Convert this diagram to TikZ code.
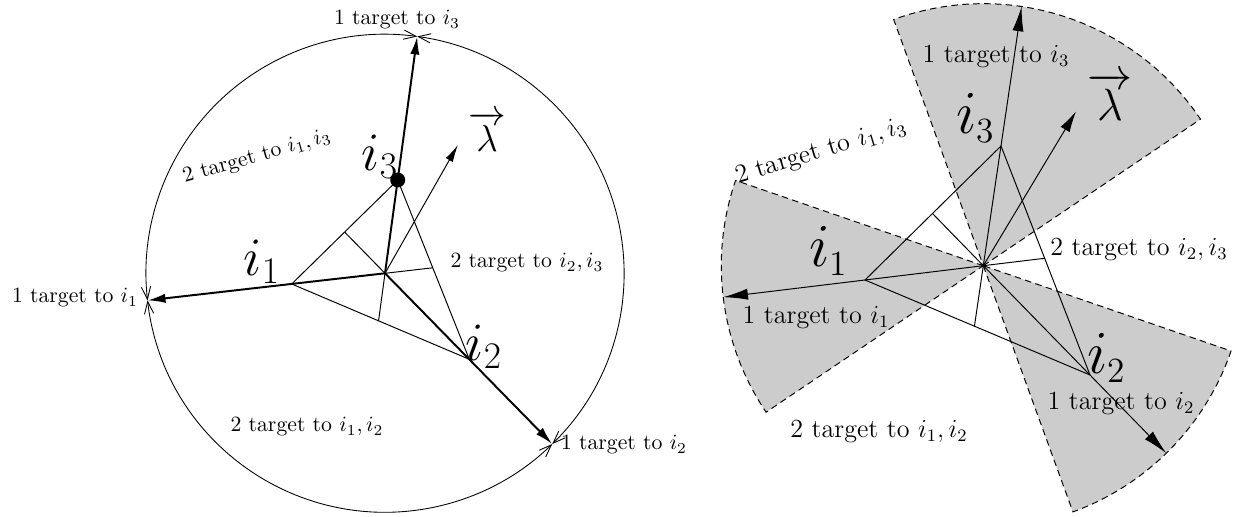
\documentclass[tikz,border=0pt]{standalone}
\usepackage{amsmath}
\usetikzlibrary{arrows.meta,calc}
\tikzset{
  thinline/.style ={line width=0.45pt},
  ray/.style      ={-{Latex[length=2.9mm,width=1.5mm]}, line width=0.9pt},
  rayR/.style     ={-{Latex[length=4mm,width=1.8mm]}, line width=0.45pt},
  lam/.style      ={-{Latex[length=2.8mm,width=1.3mm]}, line width=0.45pt},
  lamR/.style     ={-{Latex[length=3.4mm,width=1.7mm]}, line width=0.45pt},
  arcspan/.style  ={{Straight Barb[length=2mm,width=1.5mm]}-{Straight Barb[length=2mm,width=1.5mm]}, line width=0.4pt},
  sector/.style   ={fill=black!20, draw=black, line width=0.45pt, dash pattern=on 3pt off 2pt},
  tlab/.style     ={font=\normalsize, inner sep=0pt},
  tlabR/.style    ={font=\large, inner sep=0pt},
  vlab/.style     ={font=\Huge, inner sep=0pt},
  vlabR/.style    ={font=\Huge, inner sep=0pt, scale=1.13},
}

\begin{document}
\begin{tikzpicture}[x=46pt,y=46pt]
  \useasboundingbox (0,0) rectangle (12.56,5.17);

  % left picture: triangle inside the circle of directions
  \coordinate (C1) at (3.85,2.437);
  \coordinate (A1) at (2.917,2.33);
  \coordinate (B1) at (4.693,1.577);
  \coordinate (D1) at (3.977,3.37);
  \coordinate (f23) at (intersection of A1--C1 and B1--D1);
  \coordinate (f13) at (intersection of B1--C1 and A1--D1);
  \coordinate (f12) at (intersection of D1--C1 and A1--B1);
  \coordinate (t1) at ($(C1)+(186.5:2.39)$);
  \coordinate (t2) at ($(C1)+(314.4:2.39)$);
  \coordinate (t3) at ($(C1)+(82.25:2.39)$);
  \coordinate (lt1) at ($(C1)+(60.4:1.476)$);

  \draw[arcspan] (t3) arc[start angle=82.25, end angle=186.5, radius=2.39];
  \draw[arcspan] (t1) arc[start angle=186.5, end angle=314.4, radius=2.39];
  \draw[arcspan] (t2) arc[start angle=314.4, end angle=442.25, radius=2.39];

  \draw[thinline] (A1) -- (B1) -- (D1) -- cycle;
  \draw[thinline] (C1) -- (f23) (C1) -- (f13) (C1) -- (f12);
  \draw[ray] (C1) -- (t1);
  \draw[ray] (C1) -- (t2);
  \draw[ray] (C1) -- (t3);
  \draw[lam] (C1) -- (lt1);
  \fill (D1) circle[radius=0.075];

  \node[vlab] (i1L) at (2.62,2.55) {$i_{\scriptscriptstyle 1}$};
  \node[vlab] (i2L) at (4.84,1.70) {$i_{\scriptscriptstyle 2}$};
  \node[vlab] (i3L) at (3.80,3.60) {$i_{\scriptscriptstyle 3}$};
  \node[tlab, font=\LARGE] (lamL) at (4.87,3.85) {$\overrightarrow{\lambda}$};
  \node[tlab] (o1L) at (0.75,2.19) {1 target to $i_1$};
  \node[tlab] (o2L) at (6.24,0.72) {1 target to $i_2$};
  \node[tlab] (o3L) at (3.97,4.97) {1 target to $i_3$};
  \node[tlab, rotate=16] (p13L) at (2.57,3.60) {2 target to $i_1,i_3$};
  \node[tlab] (p23L) at (5.27,2.54) {2 target to $i_2,i_3$};
  \node[tlab] (p12L) at (3.07,0.90) {2 target to $i_1,i_2$};

  % right picture: shaded sectors round the same construction
  \coordinate (C2) at (9.833,2.513);
  \coordinate (A2) at (8.65,2.37);
  \coordinate (B2) at (10.9,1.42);
  \coordinate (D2) at (10.01,3.71);
  \coordinate (g23) at (intersection of A2--C2 and B2--D2);
  \coordinate (g13) at (intersection of B2--C2 and A2--D2);
  \coordinate (g12) at (intersection of D2--C2 and A2--B2);
  \coordinate (s1) at ($(C2)+(186.9:2.62)$);
  \coordinate (s2) at ($(C2)+(314.3:2.62)$);
  \coordinate (s3) at ($(C2)+(81.6:2.62)$);
  \coordinate (lt2) at ($(C2)+(59:1.80)$);

  \filldraw[sector] (C2) -- ++(34:2.62) arc[start angle=34, end angle=110, radius=2.62] -- cycle;
  \filldraw[sector] (C2) -- ++(161:2.62) arc[start angle=161, end angle=214, radius=2.62] -- cycle;
  \filldraw[sector] (C2) -- ++(290:2.62) arc[start angle=290, end angle=341, radius=2.62] -- cycle;

  \draw[thinline] (A2) -- (B2) -- (D2) -- cycle;
  \draw[thinline] (C2) -- (g23) (C2) -- (g13) (C2) -- (g12);
  \draw[rayR] (C2) -- (s1);
  \draw[rayR] (C2) -- (s2);
  \draw[rayR] (C2) -- (s3);
  \draw[lamR] (C2) -- (lt2);

  \node[vlabR] (i1R) at (8.29,2.66) {$i_{\text{\Large 1}}$};
  \node[vlabR] (i2R) at (11.07,1.59) {$i_{\text{\Large 2}}$};
  \node[vlabR] (i3R) at (9.76,3.99) {$i_{\text{\Large 3}}$};
  \node[tlab, font=\huge] (lamR) at (11.10,4.20) {$\overrightarrow{\lambda}$};
  \node[tlabR] (o1R) at (8.16,1.99) {1 target to $i_1$};
  \node[tlabR] (o2R) at (11.21,1.13) {1 target to $i_2$};
  \node[tlabR] (o3R) at (9.96,4.60) {1 target to $i_3$};
  \node[tlabR, rotate=17] (p13R) at (8.21,3.65) {2 target to $i_1,i_3$};
  \node[tlabR] (p23R) at (11.39,2.67) {2 target to $i_2,i_3$};
  \node[tlabR] (p12R) at (8.79,0.85) {2 target to $i_1,i_2$};
\end{tikzpicture}
\end{document}
